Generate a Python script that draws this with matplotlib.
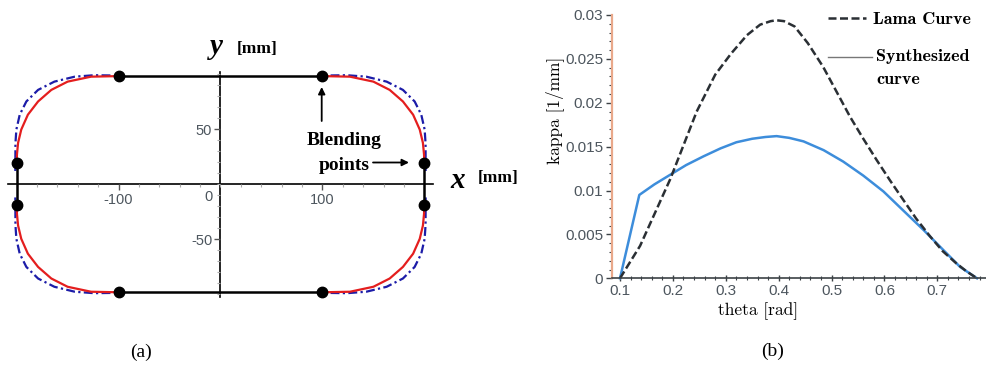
import numpy as np
import matplotlib
matplotlib.use('Agg')
from matplotlib import pyplot as plt
from matplotlib.lines import Line2D
from matplotlib.ticker import FixedLocator, FixedFormatter, MultipleLocator

#------------------------------------------------------------
# panel (a): one corner of each curve (upper right quadrant),
# mirrored into the other three quadrants
red_x = [100, 127, 150, 166, 179, 189, 195.5, 198.6, 199.7, 200]
red_y = [98, 97.5, 93, 85.5, 75, 63, 49.5, 37.5, 27, 19]

blue_x = [108, 124, 143, 163, 179, 190.5, 197, 200.3, 201.2, 201.3]
blue_y = [98.6, 98.8, 97.5, 93, 85.5, 75, 63, 49.5, 37, 12]

# blending points in the upper right quadrant
blend_x = [100, 200]
blend_y = [98, 19]

a_xticks = [-100, 100]
a_xlabels = ['-100', '100']
a_yticks = [-50, 50]
a_ylabels = ['-50', '50']

#------------------------------------------------------------
# panel (b): curvature along theta
theta_lama = [0.1, 0.138, 0.195, 0.245, 0.28, 0.31, 0.34, 0.365, 0.385, 0.396,
              0.41, 0.43, 0.455, 0.484, 0.51, 0.535, 0.56, 0.585, 0.61, 0.636,
              0.66, 0.686, 0.71, 0.736, 0.755, 0.775]
kappa_lama = [0, 0.0037, 0.0113, 0.0190, 0.0232, 0.0256, 0.0277, 0.0289, 0.0293,
              0.0294, 0.0293, 0.0287, 0.0268, 0.0241, 0.0212, 0.0184, 0.0159,
              0.0135, 0.0112, 0.0089, 0.0068, 0.0048, 0.0031, 0.0017, 0.0008, 0]

theta_syn = [0.1, 0.1365, 0.165, 0.195, 0.225, 0.258, 0.29, 0.32, 0.35, 0.375,
             0.396, 0.42, 0.447, 0.485, 0.522, 0.56, 0.598, 0.636, 0.674, 0.71,
             0.743, 0.775]
kappa_syn = [0, 0.0095, 0.0107, 0.0118, 0.0129, 0.0139, 0.0148, 0.0155, 0.0159,
             0.0161, 0.0162, 0.0160, 0.0156, 0.0146, 0.0133, 0.0117, 0.0099,
             0.0077, 0.0055, 0.0033, 0.0013, 0]

b_xticks = [0.1, 0.2, 0.3, 0.4, 0.5, 0.6, 0.7]
b_xlabels = ['0.1', '0.2', '0.3', '0.4', '0.5', '0.6', '0.7']
b_yticks = [0, 0.005, 0.01, 0.015, 0.02, 0.025, 0.03]
b_ylabels = ['0', '0.005', '0.01', '0.015', '0.02', '0.025', '0.03']

W, H = 986, 369


def px(x, y):
    # pixel position -> figure fraction
    return x / W, 1 - y / H


fig = plt.figure(figsize=(W / 100, H / 100), dpi=100)
tick_grey = '#4d565e'

#------------------------------------------------------------
# (a)
ax1 = fig.add_axes([8 / W, 1 - 296.7 / H, 425 / W, 225 / H])
ax1.set_xlim(-208.5, 208.5)
ax1.set_ylim(-102, 102)
for s in ['top', 'right']:
    ax1.spines[s].set_visible(False)
ax1.spines['left'].set_position('zero')
ax1.spines['bottom'].set_position('zero')
for s in ['left', 'bottom']:
    ax1.spines[s].set_linewidth(1.2)
    ax1.spines[s].set_zorder(1)

ax1.xaxis.set_major_locator(FixedLocator(a_xticks))
ax1.xaxis.set_major_formatter(FixedFormatter(a_xlabels))
ax1.yaxis.set_major_locator(FixedLocator(a_yticks))
ax1.yaxis.set_major_formatter(FixedFormatter(a_ylabels))
ax1.xaxis.set_minor_locator(MultipleLocator(20))
ax1.yaxis.set_minor_locator(MultipleLocator(10))
ax1.tick_params(which='major', direction='out', length=4, width=1,
                color='#555555', labelsize=10.5, labelcolor=tick_grey, pad=2)
ax1.tick_params(which='minor', direction='out', length=2.5, width=0.8,
                color='#aaaaaa')
for lab in ax1.get_xticklabels() + ax1.get_yticklabels():
    lab.set_family('Liberation Sans')
ax1.text(-8, -5, '0', ha='right', va='top', fontsize=10.5, color=tick_grey,
         family='Liberation Sans')

for sx, sy in [(1, 1), (-1, 1), (1, -1), (-1, -1)]:
    ax1.plot(sx * np.array(blue_x), sy * np.array(blue_y), color='#1c1ca8',
             lw=1.6, dashes=(4, 1.5, 1, 1.5), zorder=2)
    ax1.plot(sx * np.array(red_x), sy * np.array(red_y), color='#e41e1e',
             lw=1.6, zorder=3)

# straight segments between blending points
top = blend_y[0]
side = blend_y[1]
ax1.plot([-blend_x[0], blend_x[0]], [top, top], color='black', lw=1.8, zorder=4)
ax1.plot([-blend_x[0], blend_x[0]], [-top, -top], color='black', lw=1.8, zorder=4)
ax1.plot([blend_x[1], blend_x[1]], [-side, side], color='black', lw=1.8, zorder=4)
ax1.plot([-blend_x[1], -blend_x[1]], [-side, side], color='black', lw=1.8, zorder=4)
for sx, sy in [(1, 1), (-1, 1), (1, -1), (-1, -1)]:
    ax1.plot(sx * np.array(blend_x), sy * np.array(blend_y), 'o',
             color='black', ms=7.5, zorder=5, clip_on=False)

fig.text(*px(216.7, 47), 'y', fontsize=21, fontweight='bold', style='italic',
         family='Liberation Serif', ha='center', va='center')
fig.text(*px(256.7, 49), '[mm]', fontsize=12.5, fontweight='bold',
         family='Liberation Serif', ha='center', va='center')
fig.text(*px(458, 180), 'x', fontsize=21, fontweight='bold', style='italic',
         family='Liberation Serif', ha='center', va='center')
fig.text(*px(498, 178), '[mm]', fontsize=12.5, fontweight='bold',
         family='Liberation Serif', ha='center', va='center')
fig.text(*px(344, 140), 'Blending', fontsize=14, fontweight='bold',
         family='Liberation Serif', ha='center', va='center')
fig.text(*px(344, 166), 'points', fontsize=14, fontweight='bold',
         family='Liberation Serif', ha='center', va='center')
ax1.annotate('', xy=px(321.7, 87), xytext=px(321.7, 121),
             xycoords='figure fraction', textcoords='figure fraction',
             arrowprops=dict(arrowstyle='-|>', color='black', lw=1.3,
                             mutation_scale=10, shrinkA=0, shrinkB=0))
ax1.annotate('', xy=px(409, 162.5), xytext=px(373, 162.5),
             xycoords='figure fraction', textcoords='figure fraction',
             arrowprops=dict(arrowstyle='-|>', color='black', lw=1.3,
                             mutation_scale=10, shrinkA=0, shrinkB=0))
fig.text(*px(141, 352), '(a)', fontsize=14, family='Liberation Serif',
         ha='center', va='center')

#------------------------------------------------------------
# (b)
ax2 = fig.add_axes([611.7 / W, 1 - 278.3 / H, (W - 611.7) / W, (278.3 - 15) / H])
ax2.set_xlim(0.0843, 0.792)
ax2.set_ylim(0, 0.03)
for s in ['top', 'right']:
    ax2.spines[s].set_visible(False)
ax2.spines['left'].set_color('#e9a88a')
ax2.spines['left'].set_linewidth(1.6)
ax2.spines['bottom'].set_color('#3c4246')
ax2.spines['bottom'].set_linewidth(1.2)

ax2.xaxis.set_major_locator(FixedLocator(b_xticks))
ax2.xaxis.set_major_formatter(FixedFormatter(b_xlabels))
ax2.yaxis.set_major_locator(FixedLocator(b_yticks))
ax2.yaxis.set_major_formatter(FixedFormatter(b_ylabels))
ax2.xaxis.set_minor_locator(MultipleLocator(0.02))
ax2.yaxis.set_minor_locator(MultipleLocator(0.001))
ax2.tick_params(which='major', length=4, width=1, color='#3c4246',
                labelsize=11, labelcolor=tick_grey, pad=2)
ax2.tick_params(which='minor', length=2.5, width=0.8, color='#3c4246')
ax2.tick_params(axis='x', which='both', direction='inout')
for lab in ax2.get_xticklabels() + ax2.get_yticklabels():
    lab.set_family('Liberation Sans')

ax2.plot(theta_syn, kappa_syn, color='#3d8ddb', lw=1.8, clip_on=False)
ax2.plot(theta_lama, kappa_lama, color='#2a2f34', lw=1.8, dashes=(3.2, 1.4),
         clip_on=False)

fig.add_artist(Line2D([828 / W, 866 / W], [1 - 18.3 / H] * 2,
                      transform=fig.transFigure, color='#2a2f34', lw=1.8,
                      dashes=(3.2, 1.4)))
fig.add_artist(Line2D([828 / W, 872 / W], [1 - 57.3 / H] * 2,
                      transform=fig.transFigure, color='#777777', lw=1.0))
fig.text(*px(873, 20), 'Lama Curve', fontsize=13, family='cmb10',
         ha='left', va='center')
fig.text(*px(876, 57), 'Synthesized', fontsize=13, family='cmb10',
         ha='left', va='center')
fig.text(*px(876, 79), 'curve', fontsize=13, family='cmb10',
         ha='left', va='center')

fig.text(*px(555, 110), 'kappa [1/mm]', fontsize=12.5, family='cmr10',
         rotation=90, ha='center', va='center')
fig.text(*px(758, 311), 'theta [rad]', fontsize=12.5, family='cmr10',
         ha='center', va='center')
fig.text(*px(773, 351), '(b)', fontsize=14, family='Liberation Serif',
         ha='center', va='center')

plt.savefig('out.png', dpi=100)
